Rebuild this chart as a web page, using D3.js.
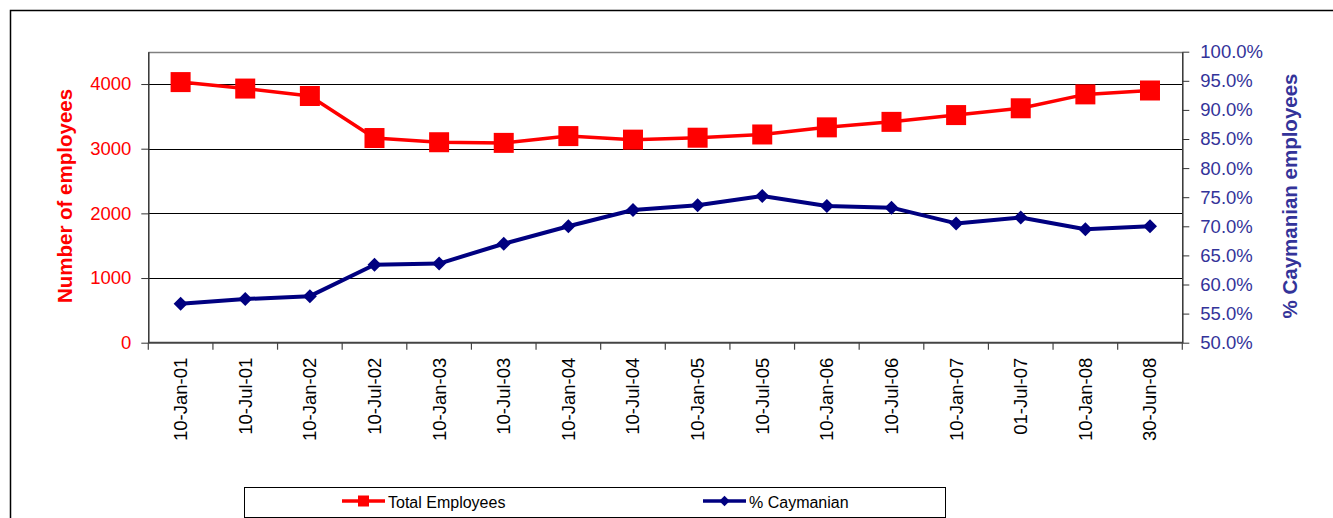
<!DOCTYPE html>
<html>
<head>
<meta charset="utf-8">
<script src="https://cdn.jsdelivr.net/npm/d3@7"></script>
<style>
  html, body { margin: 0; padding: 0; background: #fff; }
  svg { display: block; font-family: "Liberation Sans", Arial, sans-serif; }
</style>
</head>
<body>
<svg id="chart" width="1333" height="518"></svg>
<script>
// Survey dates (category axis)
const dates = ["10-Jan-01", "10-Jul-01", "10-Jan-02", "10-Jul-02", "10-Jan-03", "10-Jul-03",
               "10-Jan-04", "10-Jul-04", "10-Jan-05", "10-Jul-05", "10-Jan-06", "10-Jul-06",
               "10-Jan-07", "01-Jul-07", "10-Jan-08", "30-Jun-08"];
// Total number of employees (left axis)
const totalEmployees = [4030, 3930, 3815, 3165, 3100, 3090, 3195, 3140, 3170, 3220, 3330, 3415, 3520, 3625, 3840, 3900];
// Share of Caymanian employees (right axis)
const pctCaymanian = [0.567, 0.575, 0.580, 0.634, 0.636, 0.670, 0.700, 0.728, 0.736, 0.752, 0.735, 0.732, 0.705, 0.715, 0.695, 0.700];
// Axis ticks
const leftTicks = [0, 1000, 2000, 3000, 4000];
const rightTicks = [0.50, 0.55, 0.60, 0.65, 0.70, 0.75, 0.80, 0.85, 0.90, 0.95, 1.00];
const seriesNames = ["Total Employees", "% Caymanian"];

const svg = d3.select("#chart");
const plot = { left: 148.3, right: 1182.3, top: 51.7, bottom: 342.7 };
const RED = "#FF0000", NAVY = "#000080", INDIGO = "#333399";

// outer chart frame
svg.append("rect").attr("x", 10.5).attr("y", 10.5).attr("width", 1340).attr("height", 530)
  .attr("fill", "none").attr("stroke", "#000").attr("stroke-width", 1.5);

const x = d3.scaleBand().domain(dates).range([plot.left, plot.right]).padding(0);
const cx = d => x(d) + x.bandwidth() / 2;
const yL = d3.scaleLinear().domain([0, 4500]).range([plot.bottom, plot.top]);
const yR = d3.scaleLinear().domain([0.5, 1.0]).range([plot.bottom, plot.top]);

// gridlines
svg.append("g").selectAll("line").data(leftTicks.filter(v => v > 0)).join("line")
  .attr("x1", plot.left).attr("x2", plot.right)
  .attr("y1", d => Math.round(yL(d)) + 0.5).attr("y2", d => Math.round(yL(d)) + 0.5)
  .attr("stroke", "#000").attr("stroke-width", 1);

// plot area top edge
svg.append("line").attr("x1", plot.left).attr("x2", plot.right)
  .attr("y1", Math.round(plot.top) + 0.5).attr("y2", Math.round(plot.top) + 0.5)
  .attr("stroke", "#808080").attr("stroke-width", 1.5);

// left axis
const gL = svg.append("g").attr("transform", `translate(${plot.left},0)`)
  .call(d3.axisLeft(yL).tickValues(leftTicks).tickSize(7).tickSizeOuter(0).tickPadding(10).tickFormat(d3.format("d")));
gL.select(".domain").attr("stroke", "#333").attr("stroke-width", 1.5);
gL.selectAll(".tick line").attr("stroke", "#333");
gL.selectAll(".tick text").attr("fill", RED).attr("font-size", "18.5px")
  .attr("font-family", "Liberation Sans, Arial, sans-serif");

// right axis
const gR = svg.append("g").attr("transform", `translate(${plot.right},0)`)
  .call(d3.axisRight(yR).tickValues(rightTicks).tickSize(7).tickSizeOuter(0).tickPadding(11).tickFormat(d3.format(".1%")));
gR.select(".domain").attr("stroke", "#333").attr("stroke-width", 1.5);
gR.selectAll(".tick line").attr("stroke", "#333");
gR.selectAll(".tick text").attr("fill", INDIGO).attr("font-size", "18.5px")
  .attr("font-family", "Liberation Sans, Arial, sans-serif");

// bottom axis: labels at category centres, ticks at category edges
const gB = svg.append("g").attr("transform", `translate(0,${plot.bottom})`);
gB.append("line").attr("x1", plot.left).attr("x2", plot.right).attr("y1", 0).attr("y2", 0)
  .attr("stroke", "#444").attr("stroke-width", 2);
const edges = dates.map(d => x(d)).concat([plot.right]);
gB.selectAll("line.edge").data(edges).join("line").attr("class", "edge")
  .attr("x1", d => d).attr("x2", d => d).attr("y1", 0).attr("y2", 7)
  .attr("stroke", "#444").attr("stroke-width", 1.2);
gB.selectAll("text").data(dates).join("text")
  .attr("transform", d => `translate(${cx(d) + 6.5},${15}) rotate(-90)`)
  .attr("text-anchor", "end").attr("font-size", "18.5px").attr("fill", "#000")
  .text(d => d);

// axis titles
svg.append("text").attr("transform", "translate(72,196) rotate(-90)")
  .attr("text-anchor", "middle").attr("font-size", "20.5px").attr("font-weight", "bold")
  .attr("fill", RED).text("Number of employees");
svg.append("text").attr("transform", "translate(1297,196) rotate(-90)")
  .attr("text-anchor", "middle").attr("font-size", "20.5px").attr("font-weight", "bold")
  .attr("fill", INDIGO).text("% Caymanian employees");

// total employees series
const lineL = d3.line().x((d, i) => cx(dates[i])).y(d => yL(d));
svg.append("path").datum(totalEmployees).attr("d", lineL)
  .attr("fill", "none").attr("stroke", RED).attr("stroke-width", 3.5).attr("stroke-linejoin", "round");
svg.append("g").selectAll("rect").data(totalEmployees).join("rect")
  .attr("x", (d, i) => cx(dates[i]) - 10).attr("y", d => yL(d) - 10)
  .attr("width", 20).attr("height", 20).attr("fill", RED);

// % Caymanian series
const lineR = d3.line().x((d, i) => cx(dates[i])).y(d => yR(d));
svg.append("path").datum(pctCaymanian).attr("d", lineR)
  .attr("fill", "none").attr("stroke", NAVY).attr("stroke-width", 4).attr("stroke-linejoin", "round");
const diamond = d3.symbol().type(d3.symbolDiamond2).size(125);
svg.append("g").selectAll("path").data(pctCaymanian).join("path")
  .attr("transform", (d, i) => `translate(${cx(dates[i])},${yR(d)})`)
  .attr("d", diamond).attr("fill", NAVY);

// legend
const lg = svg.append("g");
lg.append("rect").attr("x", 244.5).attr("y", 487.5).attr("width", 701).attr("height", 30)
  .attr("fill", "#fff").attr("stroke", "#000").attr("stroke-width", 1);
const legendItems = [
  { name: seriesNames[0], color: RED, x0: 342, shape: "square" },
  { name: seriesNames[1], color: NAVY, x0: 703, shape: "diamond" }
];
legendItems.forEach(it => {
  const ly = 501;
  lg.append("line").attr("x1", it.x0).attr("x2", it.x0 + 43).attr("y1", ly).attr("y2", ly)
    .attr("stroke", it.color).attr("stroke-width", 3.5);
  if (it.shape === "square") {
    lg.append("rect").attr("x", it.x0 + 21.5 - 5.5).attr("y", ly - 5.5).attr("width", 11).attr("height", 11).attr("fill", it.color);
  } else {
    lg.append("path").attr("transform", `translate(${it.x0 + 21.5},${ly})`)
      .attr("d", d3.symbol().type(d3.symbolDiamond2).size(70)).attr("fill", it.color);
  }
  lg.append("text").attr("x", it.x0 + 46).attr("y", 507.5).attr("font-size", "16px").attr("fill", "#000")
    .text(it.name);
});
</script>
</body>
</html>
